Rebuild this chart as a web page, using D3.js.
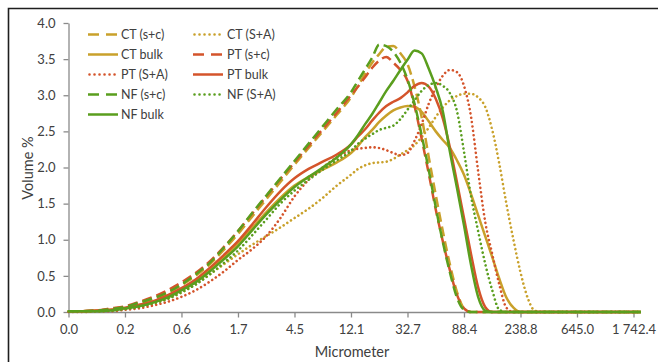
<!DOCTYPE html>
<html>
<head>
<meta charset="utf-8">
<script src="https://cdn.jsdelivr.net/npm/d3@7"></script>
<style>
  html, body { margin: 0; padding: 0; background: #fff; }
  svg { display: block; font-family: Lato, "Open Sans", "DejaVu Sans", sans-serif; }
</style>
</head>
<body>
<svg id="chart" width="658" height="362"></svg>
<script>
// Size classes (micrometer), log-spaced
const sizes = [
  0.0843, 0.1080, 0.1385, 0.1775, 0.2276, 0.2917, 0.3740, 0.4795, 0.6147, 0.7881,
  1.0104, 1.2952, 1.6606, 2.1289, 2.7292, 3.4990, 4.4857, 5.7506, 7.3728, 9.4517,
  12.117, 13.720, 15.535, 17.591, 19.915, 22.549, 25.530, 28.908, 32.732, 37.058,
  41.963, 47.513, 53.796, 60.910, 68.964, 78.085, 88.40, 100.09, 113.33, 128.33,
  145.30, 164.51, 186.27, 210.90, 238.78, 270.4, 306.1, 346.6, 392.5, 645.0,
  1060.2, 1742.4, 1982.7
];

// Axis ticks
const tickSizes = [0.0843, 0.2276, 0.6147, 1.6606, 4.4857, 12.117, 32.732, 88.40, 238.78, 645.0, 1742.4];
const tickLabels = ["0.0", "0.2", "0.6", "1.7", "4.5", "12.1", "32.7", "88.4", "238.8", "645.0", "1\u00a0742.4"];
const volumeTicks = [0, 0.5, 1.0, 1.5, 2.0, 2.5, 3.0, 3.5, 4.0];

// Volume % per size class
const ctSC = [
  0.01, 0.01, 0.02, 0.04, 0.07, 0.12, 0.18, 0.26, 0.37, 0.5, 0.66, 0.86, 1.08, 1.32, 1.56, 1.8, 2.04, 2.27, 2.5, 2.73, 2.97,
  3.13, 3.3, 3.45, 3.57, 3.67, 3.68, 3.58, 3.43, 3.12, 2.7, 2.15, 1.62, 1.12, 0.66, 0.28, 0.05, 0, 0, 0, 0, 0, 0, 0, 0, 0, 0, 0, 0,
  0, 0, 0, 0
];
const ctSA = [
  0.01, 0.01, 0.01, 0.02, 0.04, 0.07, 0.12, 0.18, 0.27, 0.38, 0.52, 0.66, 0.8, 0.93, 1.05, 1.17, 1.3, 1.43, 1.58, 1.75, 1.9,
  1.98, 2.03, 2.06, 2.07, 2.08, 2.12, 2.18, 2.24, 2.31, 2.42, 2.55, 2.7, 2.83, 2.93, 2.99, 3.02, 3.02, 2.97, 2.84, 2.52, 2.05, 1.5, 1.0, 0.55, 0.2, 0.02, 0, 0,
  0, 0, 0, 0
];
const ctBulk = [
  0.01, 0.01, 0.02, 0.03, 0.05, 0.09, 0.14, 0.21, 0.31, 0.43, 0.59, 0.76, 0.95, 1.16, 1.38, 1.58, 1.75, 1.87, 1.97, 2.07, 2.2,
  2.3, 2.42, 2.52, 2.63, 2.72, 2.79, 2.83, 2.85, 2.84, 2.77, 2.64, 2.5, 2.38, 2.27, 2.1, 1.9, 1.63, 1.34, 1.05, 0.76, 0.46, 0.2, 0.06, 0, 0, 0, 0, 0,
  0, 0, 0, 0
];
const ptSC = [
  0.01, 0.01, 0.02, 0.05, 0.08, 0.14, 0.21, 0.3, 0.41, 0.54, 0.7, 0.9, 1.12, 1.36, 1.6, 1.84, 2.07, 2.3, 2.53, 2.76, 3.0,
  3.12, 3.25, 3.38, 3.48, 3.53, 3.45, 3.35, 3.2, 2.85, 2.4, 1.92, 1.42, 0.98, 0.58, 0.24, 0.05, 0, 0, 0, 0, 0, 0, 0, 0, 0, 0, 0, 0,
  0, 0, 0, 0
];
const ptSA = [
  0.0, 0.0, 0.01, 0.01, 0.03, 0.05, 0.09, 0.14, 0.21, 0.3, 0.42, 0.56, 0.72, 0.87, 1.05, 1.3, 1.6, 1.83, 2.0, 2.14, 2.24,
  2.26, 2.27, 2.28, 2.27, 2.24, 2.2, 2.17, 2.2, 2.37, 2.6, 2.88, 3.1, 3.27, 3.35, 3.32, 3.13, 2.7, 1.95, 1.25, 0.8, 0.38, 0.06, 0, 0, 0, 0, 0, 0,
  0, 0, 0, 0
];
const ptBulk = [
  0.01, 0.01, 0.02, 0.03, 0.06, 0.1, 0.15, 0.23, 0.33, 0.45, 0.61, 0.79, 0.98, 1.21, 1.45, 1.67, 1.85, 1.98, 2.08, 2.18, 2.32,
  2.43, 2.53, 2.65, 2.76, 2.85, 2.91, 2.96, 3.04, 3.13, 3.17, 3.12, 2.95, 2.68, 2.28, 1.8, 1.3, 0.8, 0.34, 0.07, 0, 0, 0, 0, 0, 0, 0, 0, 0,
  0, 0, 0, 0
];
const nfSC = [
  0.01, 0.01, 0.02, 0.04, 0.07, 0.13, 0.19, 0.27, 0.38, 0.52, 0.68, 0.89, 1.12, 1.37, 1.61, 1.85, 2.09, 2.33, 2.57, 2.81, 3.04,
  3.2, 3.36, 3.52, 3.7, 3.68, 3.6, 3.45, 3.22, 2.88, 2.45, 1.97, 1.45, 0.97, 0.55, 0.2, 0.03, 0, 0, 0, 0, 0, 0, 0, 0, 0, 0, 0, 0,
  0, 0, 0, 0
];
const nfSA = [
  0.01, 0.01, 0.01, 0.02, 0.04, 0.07, 0.12, 0.18, 0.27, 0.38, 0.52, 0.68, 0.85, 1.06, 1.28, 1.5, 1.68, 1.83, 1.97, 2.1, 2.23,
  2.33, 2.4, 2.46, 2.52, 2.55, 2.58, 2.67, 2.8, 2.93, 3.06, 3.14, 3.17, 3.13, 3.03, 2.78, 2.22, 1.6, 1.12, 0.67, 0.3, 0.03, 0, 0, 0, 0, 0, 0, 0,
  0, 0, 0, 0
];
const nfBulk = [
  0.01, 0.01, 0.01, 0.02, 0.05, 0.08, 0.13, 0.2, 0.3, 0.41, 0.56, 0.73, 0.91, 1.13, 1.35, 1.55, 1.73, 1.87, 2.0, 2.14, 2.32,
  2.45, 2.6, 2.74, 2.9, 3.06, 3.2, 3.35, 3.49, 3.62, 3.58, 3.37, 3.11, 2.78, 2.22, 1.72, 1.2, 0.65, 0.21, 0.02, 0, 0, 0, 0, 0, 0, 0, 0, 0,
  0, 0, 0, 0
];

const seriesNames = ["CT (s+c)", "CT (S+A)", "CT bulk", "PT (s+c)", "PT (S+A)", "PT bulk", "NF (s+c)", "NF (S+A)", "NF bulk"];
const seriesValues = [ctSC, ctSA, ctBulk, ptSC, ptSA, ptBulk, nfSC, nfSA, nfBulk];

// Styling
const colors = { CT: "#C9A12B", PT: "#D4542B", NF: "#5A9E1E" };
const dashFor = { sc: "10,5", sa: "0.01,4.4", bulk: null };
const legendDash = { sc: "11,7", sa: "0.01,5", bulk: null };
function styleOf(name) {
  const group = name.slice(0, 2);
  const kind = name.includes("s+c") ? "sc" : name.includes("S+A") ? "sa" : "bulk";
  return { color: colors[group], kind };
}

const svg = d3.select("#chart");
const W = 658, H = 362;
svg.append("rect").attr("width", W).attr("height", H).attr("fill", "#fff");

// outer frame
svg.append("path")
  .attr("d", `M8.5,${H + 2}V8.5H${W + 2}`)
  .attr("fill", "none").attr("stroke", "#1e1e1e").attr("stroke-width", 1.6);

const x = d3.scaleLog().domain([tickSizes[0], tickSizes[tickSizes.length - 1]]).range([68.5, 633.5]);
const y = d3.scaleLinear().domain([0, 4]).range([312, 23]);

const axisColor = "#8a8a8a";
const textColor = "#404040";

// y axis
const gy = svg.append("g").attr("transform", "translate(68.5,0)")
  .call(d3.axisLeft(y).tickValues(volumeTicks).tickFormat(d3.format(".1f")).tickSize(5).tickSizeOuter(0).tickPadding(8));
gy.select(".domain").attr("stroke", axisColor).attr("stroke-width", 1.3);
gy.selectAll(".tick line").attr("stroke", axisColor).attr("stroke-width", 1.3);
gy.selectAll(".tick text").attr("fill", textColor).attr("font-size", 13).attr("font-family", "Lato, sans-serif");

// x axis
const gx = svg.append("g").attr("transform", "translate(0,312.5)")
  .call(d3.axisBottom(x).tickValues(tickSizes).tickFormat((d, i) => tickLabels[i]).tickSize(5).tickSizeOuter(0).tickPadding(7));
gx.select(".domain").attr("d", `M${x.range()[0]},0H${x(sizes[sizes.length - 1])}`)
  .attr("stroke", axisColor).attr("stroke-width", 1.3);
gx.selectAll(".tick line").attr("stroke", axisColor).attr("stroke-width", 1.3);
gx.selectAll(".tick text").attr("fill", textColor).attr("font-size", 13).attr("font-family", "Lato, sans-serif");

// axis titles
svg.append("text").attr("x", 352).attr("y", 357).attr("text-anchor", "middle")
  .attr("font-size", 14.5).attr("fill", textColor).text("Micrometer");
svg.append("text").attr("transform", "translate(33,168) rotate(-90)").attr("text-anchor", "middle")
  .attr("font-size", 14.5).attr("fill", textColor).text("Volume %");

// series lines
const line = d3.line()
  .x((d, i) => x(sizes[i]))
  .y(d => y(d))
  .curve(d3.curveMonotoneX);

const plot = svg.append("g");
seriesNames.forEach((name, k) => {
  const st = styleOf(name);
  const p = plot.append("path")
    .datum(seriesValues[k])
    .attr("d", line)
    .attr("fill", "none")
    .attr("stroke", st.color)
    .attr("stroke-width", 2.5)
    .attr("stroke-linejoin", "round");
  if (st.kind === "sa") p.attr("stroke-dasharray", dashFor.sa).attr("stroke-linecap", "round").attr("stroke-width", 2.6);
  else if (st.kind === "sc") p.attr("stroke-dasharray", dashFor.sc);
});

// legend, two columns filled row by row
const legend = svg.append("g");
seriesNames.forEach((name, k) => {
  const st = styleOf(name);
  const col = k % 2, row = Math.floor(k / 2);
  const x0 = col === 0 ? 88 : 193;
  const yy = 34.5 + row * 20;
  const s = legend.append("line")
    .attr("x1", x0).attr("x2", x0 + 30).attr("y1", yy).attr("y2", yy)
    .attr("stroke", st.color).attr("stroke-width", 2.5);
  if (st.kind === "sa") s.attr("stroke-dasharray", legendDash.sa).attr("stroke-linecap", "round").attr("x1", x0 + 1.5).attr("stroke-width", 2.6);
  else if (st.kind === "sc") s.attr("stroke-dasharray", legendDash.sc);
  legend.append("text")
    .attr("x", x0 + (col === 0 ? 33 : 34)).attr("y", yy).attr("dy", "0.35em")
    .attr("font-size", 12.5).attr("fill", textColor).text(name);
});
</script>
</body>
</html>
